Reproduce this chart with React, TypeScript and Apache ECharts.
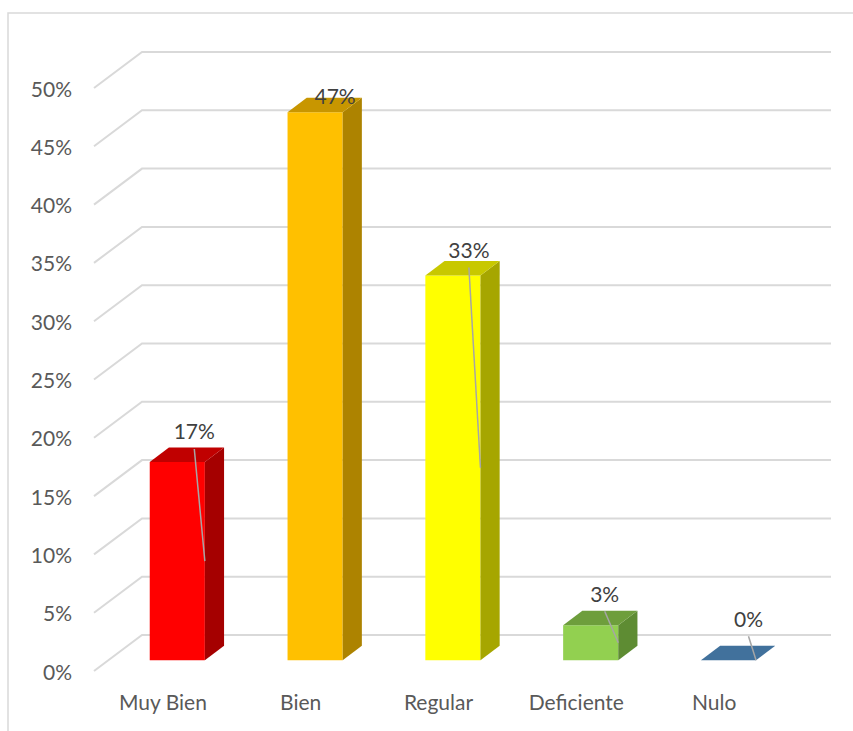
import React, { useEffect, useRef } from "react";
import * as echarts from "echarts";

// ---- data ----
const categories = ["Muy Bien", "Bien", "Regular", "Deficiente", "Nulo"];
const values = [17, 47, 33, 3, 0];
const valueLabels = ["17%", "47%", "33%", "3%", "0%"];
const yTicks = [0, 5, 10, 15, 20, 25, 30, 35, 40, 45, 50];

// ---- styles ----
const frontColors = ["#FF0000", "#FFC000", "#FFFF00", "#92D050", "#41719C"];
const topColors = ["#C00000", "#C89600", "#C8C800", "#6E9E3C", "#41719C"];
const sideColors = ["#A50000", "#AD8300", "#A6A600", "#5E8C33", "#2F5A80"];
const labelDx = [17, 20, 16, 14, 20];
const labelLift = [31, 17, 26, 32, 42];
const showLeader = [true, false, true, true, true];

const DX = 48; // depth offset of the back wall
const DY = 36;
const BAR_FRAC = 0.4;
const DEPTH_FRONT = 0.3;
const DEPTH_SIZE = 0.4;
const FONT = "Lato, 'Open Sans', sans-serif";

export default function App() {
  const ref = useRef<HTMLDivElement>(null);
  useEffect(() => {
    if (!ref.current) return;
    const chart = echarts.init(ref.current, null, { renderer: "svg" });
    chart.setOption({
      animation: false,
      backgroundColor: "#FFFFFF",
      grid: { left: 94, right: 70, top: 88, bottom: 60, containLabel: false },
      graphic: [
        {
          type: "rect",
          silent: true,
          shape: { x: 8, y: 13, width: 1000, height: 1000 },
          style: { fill: "none", stroke: "#D9D9D9", lineWidth: 1.5 },
        },
      ],
      xAxis: {
        type: "category",
        data: categories,
        axisLine: { show: false },
        axisTick: { show: false },
        axisLabel: { color: "#595959", fontSize: 21, fontFamily: FONT, margin: 20 },
      },
      yAxis: {
        type: "value",
        min: 0,
        max: 50,
        interval: 5,
        splitLine: { show: false },
        axisLine: { show: false },
        axisTick: { show: false },
        axisLabel: {
          color: "#595959",
          fontSize: 21,
          fontFamily: FONT,
          margin: 22,
          formatter: (v: number) => `${Math.round(v)}%`,
        },
      },
      series: [
        {
          type: "custom",
          clip: false,
          z: 1,
          silent: true,
          data: yTicks.map((v) => [0, v]),
          renderItem: (params: any, api: any) => {
            const cs = params.coordSys;
            const y = api.coord([0, api.value(1)])[1];
            const x0 = cs.x;
            return {
              type: "polyline",
              shape: {
                points: [
                  [x0, y],
                  [x0 + DX, y - DY],
                  [x0 + cs.width + DX, y - DY],
                ],
              },
              style: { stroke: "#D9D9D9", lineWidth: 2, fill: "none" },
            };
          },
        },
        {
          type: "custom",
          clip: false,
          z: 3,
          silent: true,
          data: values.map((v, i) => [i, v]),
          renderItem: (params: any, api: any) => {
            const idx = params.dataIndex;
            const i = api.value(0);
            const v = api.value(1);
            const top = api.coord([i, v]);
            const base = api.coord([i, 0]);
            const bw = api.size([1, 0])[0] * BAR_FRAC;
            const sx = DX * DEPTH_FRONT;
            const sy = DY * DEPTH_FRONT;
            const l = top[0] - bw / 2 + sx;
            const r = l + bw;
            const yt = top[1] - sy;
            const yb = base[1] - sy;
            const ddx = DX * DEPTH_SIZE;
            const ddy = DY * DEPTH_SIZE;
            const children: any[] = [];
            if (yb - yt > 0.5) {
              children.push({
                type: "polygon",
                shape: { points: [[l, yt], [r, yt], [r, yb], [l, yb]] },
                style: { fill: frontColors[idx] },
              });
              children.push({
                type: "polygon",
                shape: { points: [[r, yt], [r + ddx, yt - ddy], [r + ddx, yb - ddy], [r, yb]] },
                style: { fill: sideColors[idx] },
              });
            }
            children.push({
              type: "polygon",
              shape: { points: [[l, yt], [r, yt], [r + ddx, yt - ddy], [l + ddx, yt - ddy]] },
              style: { fill: topColors[idx] },
            });
            const cx = (l + r) / 2 + labelDx[idx];
            const ly = yt - labelLift[idx];
            if (showLeader[idx]) {
              children.push({
                type: "line",
                shape: { x1: cx, y1: ly + 18, x2: r, y2: (yt + yb) / 2 },
                style: { stroke: "#A6A6A6", lineWidth: 1.5 },
              });
            }
            children.push({
              type: "text",
              style: {
                text: valueLabels[idx],
                x: cx,
                y: ly,
                align: "center",
                verticalAlign: "middle",
                fontSize: 21,
                fontFamily: FONT,
                fill: "#404040",
              },
            });
            return { type: "group", children };
          },
        },
      ],
    });
    return () => chart.dispose();
  }, []);
  return (
    <div
      ref={ref}
      style={{ position: "fixed", left: 0, top: 0, width: 853, height: 731 }}
    />
  );
}
